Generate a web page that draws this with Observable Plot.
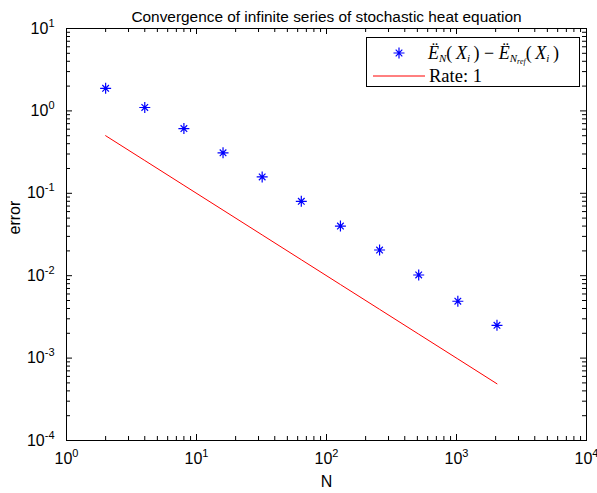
<!DOCTYPE html>
<html>
<head>
<meta charset="utf-8">
<script src="https://cdn.jsdelivr.net/npm/d3@7"></script>
<script src="https://cdn.jsdelivr.net/npm/@observablehq/plot@0.6"></script>
<style>
  html, body { margin: 0; padding: 0; background: #fff; }
  #wrap { position: relative; width: 597px; height: 493px; }
  #legend { position: absolute; left: 0; top: 0; pointer-events: none; }
</style>
</head>
<body>
<div id="wrap"></div>
<script>
// Truncation size N (powers of two) and the measured error at each N
const N = [2, 4, 8, 16, 32, 64, 128, 256, 512, 1024, 2048];
const errorValues = [1.88, 1.10, 0.61, 0.31, 0.158, 0.080, 0.040, 0.0205, 0.0102, 0.0049, 0.0025];
// Reference slope-1 line
const rateValues = [0.5, 0.25, 0.125, 0.0625, 0.03125, 0.015625, 0.0078125, 0.00390625, 0.001953, 0.000977, 0.000488];

// Axis ticks (log decades and minor ticks)
const xDecades = [1, 10, 100, 1000, 10000];
const yDecades = [1e-4, 1e-3, 1e-2, 1e-1, 1, 10];
const minorSteps = [2, 3, 4, 5, 6, 7, 8, 9];

const title = "Convergence of infinite series of stochastic heat equation";
const xLabel = "N";
const yLabel = "error";

const minorOf = (decades) => decades.slice(0, -1).flatMap(d => minorSteps.map(m => m * d));
const xMinor = minorOf(xDecades);
const yMinor = minorOf(yDecades);

const errorData = N.map((n, i) => ({N: n, value: errorValues[i]}));
const rateData = N.map((n, i) => ({N: n, value: rateValues[i]}));

const W = 597, H = 493;
const M = {top: 28, right: 11, bottom: 53, left: 66};
const frameW = W - M.left - M.right;
const frameH = H - M.top - M.bottom;
const MAJOR = 6, MINOR = 4;

const FONT = "'Liberation Sans', Arial, sans-serif";
const pow = d => `10^${Math.round(Math.log10(d))}`;

// MATLAB-style "*" marker: a plus with a smaller cross
const starSymbol = {
  draw(ctx, size) {
    const r = Math.sqrt(size / Math.PI);
    const d = r * 0.6;
    ctx.moveTo(-r, 0); ctx.lineTo(r, 0);
    ctx.moveTo(0, -r); ctx.lineTo(0, r);
    ctx.moveTo(-d, -d); ctx.lineTo(d, d);
    ctx.moveTo(-d, d); ctx.lineTo(d, -d);
  }
};

// Inward ticks on all four sides of the box
const tickMarks = (values, len) => [
  Plot.ruleX(values, {x: d => d, insetTop: frameH - len, stroke: "#000"}),
  Plot.ruleX(values, {x: d => d, insetBottom: frameH - len, stroke: "#000"}),
];
const tickMarksY = (values, len) => [
  Plot.ruleY(values, {y: d => d, insetRight: frameW - len, stroke: "#000"}),
  Plot.ruleY(values, {y: d => d, insetLeft: frameW - len, stroke: "#000"}),
];

const chart = Plot.plot({
  width: W,
  height: H,
  marginTop: M.top,
  marginLeft: M.left,
  marginRight: M.right,
  marginBottom: M.bottom,
  style: {fontFamily: FONT, fontSize: "16px", color: "#000", background: "#fff"},
  x: {type: "log", domain: [1, 1e4]},
  y: {type: "log", domain: [1e-4, 10]},
  marks: [
    ...tickMarks(xDecades, MAJOR),
    ...tickMarks(xMinor, MINOR),
    ...tickMarksY(yDecades, MAJOR),
    ...tickMarksY(yMinor, MINOR),
    Plot.frame({stroke: "#000", strokeWidth: 1}),
    // tick labels
    Plot.axisX(xDecades, {anchor: "bottom", tickSize: 0, tickPadding: 12, tickFormat: pow, label: null, fontSize: 16}),
    Plot.axisY(yDecades, {anchor: "left", tickSize: 0, tickPadding: 12, tickFormat: pow, label: null, fontSize: 16}),
    // axis titles and chart title
    Plot.text([xLabel], {frameAnchor: "bottom", dy: 46, text: d => d, fontSize: 16}),
    Plot.text([yLabel], {frameAnchor: "left", dx: -52, rotate: -90, text: d => d, fontSize: 16}),
    Plot.text([title], {frameAnchor: "top", dy: -17, text: d => d, fontSize: 15.4}),
    // data
    Plot.line(rateData, {x: "N", y: "value", stroke: "#ff0000", strokeWidth: 1}),
    Plot.dot(errorData, {x: "N", y: "value", symbol: starSymbol, r: 5.5, stroke: "#0000ff", strokeWidth: 1.2, fill: "none"})
  ]
});

// Render tick labels as 10 with a raised exponent
d3.select(chart).selectAll("g[aria-label$='tick label'] text").each(function () {
  const t = this.textContent;
  if (!t.includes("^")) return;
  const [base, exp] = t.split("^");
  const sel = d3.select(this);
  sel.text(null);
  sel.append("tspan").text(base);
  sel.append("tspan").attr("dy", "-7").attr("font-size", "11").text(exp);
});

const wrap = document.getElementById("wrap");
wrap.appendChild(chart);

// Legend box
const leg = d3.select(wrap).append("svg")
  .attr("id", "legend").attr("width", W).attr("height", H);
leg.append("rect").attr("x", 366.5).attr("y", 37.5).attr("width", 213).attr("height", 49)
  .attr("fill", "#fff").attr("stroke", "#000");
leg.append("path")
  .attr("transform", "translate(399,53)")
  .attr("d", d3.symbol(starSymbol, Math.PI * 5.5 * 5.5)())
  .attr("stroke", "#0000ff").attr("stroke-width", 1.2).attr("fill", "none");
leg.append("line").attr("x1", 373).attr("x2", 425).attr("y1", 76).attr("y2", 76)
  .attr("stroke", "#ff0000").attr("stroke-width", 1);

const serif = "'Liberation Serif', 'Times New Roman', serif";
const t1 = leg.append("text").attr("x", 428).attr("y", 59)
  .attr("font-family", serif).attr("font-size", 18);
const parts = [
  ["E\u0308", {italic: true}],
  ["N", {italic: true, size: 11, dy: 3}],
  ["(\u2009", {dy: -3}],
  ["X", {italic: true}],
  ["i", {italic: true, size: 11, dy: 3}],
  ["\u2009) \u2212 ", {dy: -3}],
  ["E\u0308", {italic: true}],
  ["N", {italic: true, size: 11, dy: 3}],
  ["ref", {italic: true, size: 8, dy: 2}],
  ["(\u2009", {dy: -5}],
  ["X", {italic: true}],
  ["i", {italic: true, size: 11, dy: 3}],
  ["\u2009)", {dy: -3}]
];
for (const [s, o] of parts) {
  const sp = t1.append("tspan").text(s);
  if (o.italic) sp.attr("font-style", "italic");
  if (o.size) sp.attr("font-size", o.size);
  if (o.dy) sp.attr("dy", o.dy);
}
leg.append("text").attr("x", 429).attr("y", 82)
  .attr("font-family", serif).attr("font-size", 18.5).text("Rate: 1");
</script>
</body>
</html>
